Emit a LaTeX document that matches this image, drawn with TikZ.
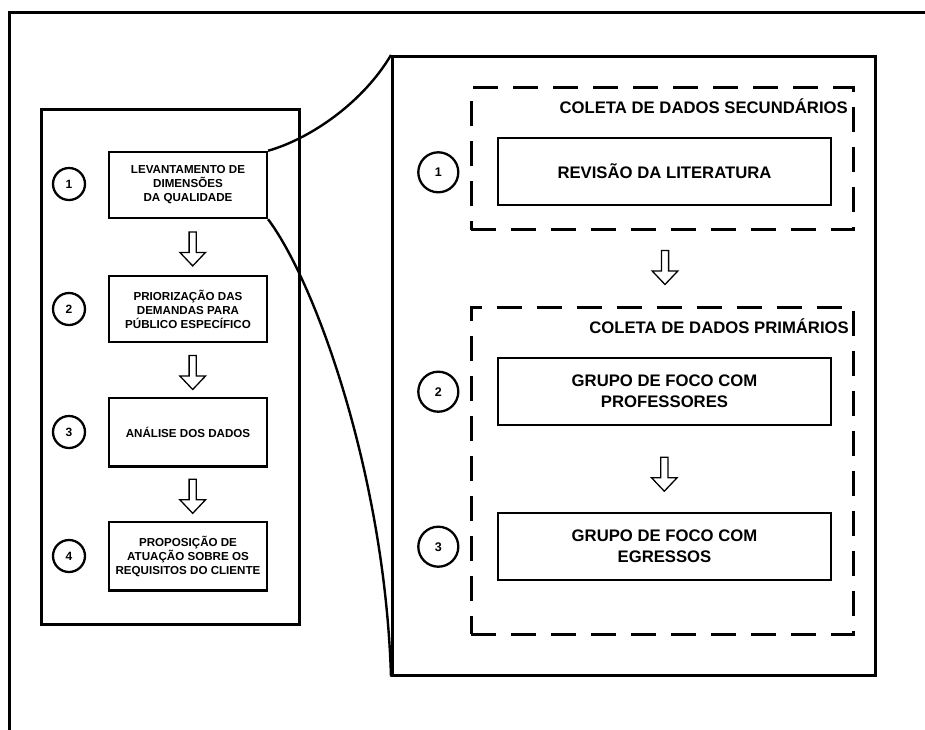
\documentclass[tikz,border=0pt]{standalone}
\usepackage{fontspec}
\setmainfont{Liberation Sans}
\begin{document}
\begin{tikzpicture}[x=1pt, y=-1pt,
  frame/.style={draw, line width=2.8pt, line join=miter},
  lbox/.style={draw, line width=2.5pt, minimum width=157.6pt, minimum height=66pt,
    align=center, inner sep=0pt, font=\fontsize{11.6}{14}\selectfont\bfseries},
  rbox/.style={draw, line width=2.5pt, minimum width=333.2pt, minimum height=67pt,
    align=center, inner sep=0pt, font=\fontsize{16.7}{21.3}\selectfont\bfseries},
  lnum/.style={circle, draw, line width=2.3pt, minimum size=32pt, inner sep=0pt,
    font=\fontsize{12}{12}\selectfont\bfseries},
  rnum/.style={circle, draw, line width=2.3pt, minimum size=40pt, inner sep=0pt,
    font=\fontsize{12.5}{12.5}\selectfont\bfseries},
  group/.style={draw, line width=2.8pt, dash pattern=on 25pt off 15pt},
  grouptitle/.style={anchor=east, inner sep=0pt, font=\fontsize{16.7}{20}\selectfont\bfseries},
  zoomline/.style={line width=2.4pt},
  hollow/.pic={\draw[line width=1.3pt, line join=miter, fill=white]
    (-3.6,-17) -- (-3.6,3.5) -- (-12.8,3.5) -- (0,17) -- (12.8,3.5) -- (3.6,3.5) -- (3.6,-17) -- cycle;}
]
\useasboundingbox (0,0) rectangle (925,729);
\clip (0,0) rectangle (925,729);

% page frame, running past the right and bottom edges
\draw[frame, line width=3pt] (9,12.7) rectangle (960,760);

% left panel: the four stages
\node[frame, minimum width=258pt, minimum height=515pt] (lp) at (170.5,366.7) {};
\node[lbox] (l1) at (188,185) {LEVANTAMENTO DE\\DIMENSÕES\\DA QUALIDADE};
\node[lbox] (l2) at (188,309) {PRIORIZAÇÃO DAS\\DEMANDAS PARA\\PÚBLICO ESPECÍFICO};
\node[lbox, minimum height=68.5pt] (l3) at (188,432.2) {ANÁLISE DOS DADOS};
\node[lbox, minimum height=68.5pt] (l4) at (188,556.3) {PROPOSIÇÃO DE\\ATUAÇÃO SOBRE OS\\REQUISITOS DO CLIENTE};
\node[lnum] (n1) at (69,184) {1};
\node[lnum] (n2) at (69,309) {2};
\node[lnum] (n3) at (69,432) {3};
\node[lnum] (n4) at (69,556) {4};
\pic at (192.7,248.9) {hollow};
\pic at (192.7,372.5) {hollow};
\pic at (192.7,496.3) {hollow};

% right panel: detail of stage 1
\node[frame, minimum width=482.9pt, minimum height=618.9pt] (rp) at (633.85,365.85) {};
\node[group, minimum width=381.9pt, minimum height=142.5pt] (sec) at (662.35,158.35) {};
\node[grouptitle] (tsec) at (848,105.7) {COLETA DE DADOS SECUNDÁRIOS};
\node[rbox] (r1) at (664.5,171.5) {REVISÃO DA LITERATURA};
\node[group, minimum width=381.9pt, minimum height=327.2pt] (prim) at (662.35,470.7) {};
\node[grouptitle] (tprim) at (849,325.7) {COLETA DE DADOS PRIMÁRIOS};
\node[rbox] (r2) at (664.5,391.3) {GRUPO DE FOCO COM\\PROFESSORES};
\node[rbox] (r3) at (664.5,546.5) {GRUPO DE FOCO COM\\EGRESSOS};
\node[rnum] (m1) at (438.3,172.3) {1};
\node[rnum] (m2) at (438.3,391.7) {2};
\node[rnum] (m3) at (438.3,546.7) {3};
\pic at (665,267.5) {hollow};
\pic at (664.3,474.2) {hollow};

% zoom lines from stage 1 to its detail
\draw[zoomline] (l1.north east) .. controls +(43,-12.2) and +(-27.7,47) .. (rp.north west);
\draw[zoomline] (l1.south east) .. controls +(48,64) and +(-6,-200) .. (rp.south west);
\end{tikzpicture}
\end{document}
